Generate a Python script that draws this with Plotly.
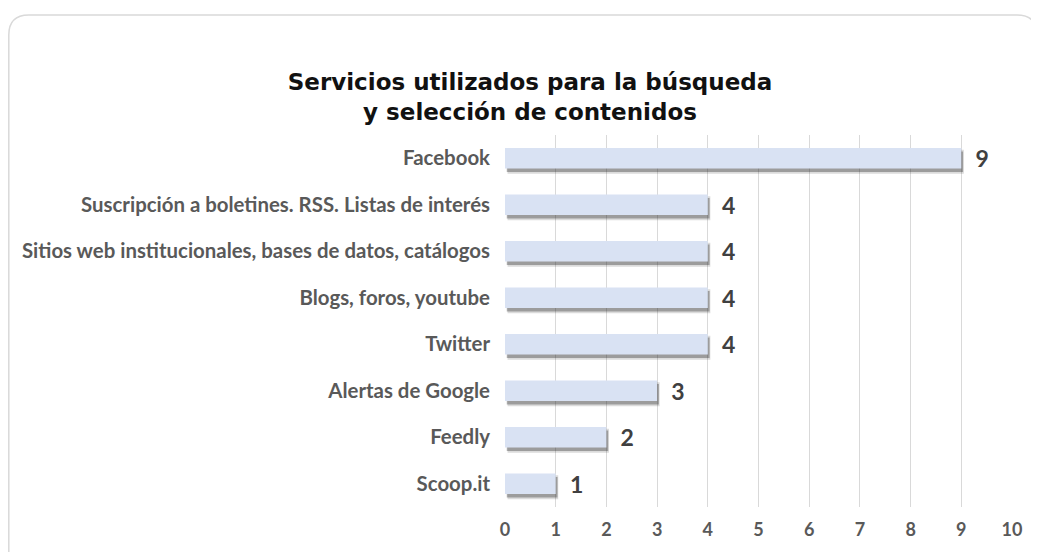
import plotly.graph_objects as go

categories = ["Facebook", "Suscripción a boletines. RSS. Listas de interés",
              "Sitios web institucionales, bases de datos, catálogos",
              "Blogs, foros, youtube", "Twitter", "Alertas de Google", "Feedly", "Scoop.it"]
values = [9, 4, 4, 4, 4, 3, 2, 1]
x_ticks = list(range(0, 11))

# page has an 8px body margin, so the figure is 8px smaller than the window
W, H = 1031, 544
L, R, T, B = 497, 1004, 127, 499

cats = categories[::-1]
vals = values[::-1]
LABEL_FONT = "Lato, Open Sans, sans-serif"

fig = go.Figure()
# soft shadow (drawn first, on the underlying axis)
fig.add_trace(go.Bar(
    y=cats, x=vals, orientation="h", yaxis="y", base=0.05,
    marker=dict(color="rgba(0,0,0,0.14)", line=dict(width=0)),
    width=0.52, hoverinfo="skip", showlegend=False))
fig.add_trace(go.Bar(
    y=cats, x=vals, orientation="h", yaxis="y", base=0.035,
    marker=dict(color="rgba(40,40,40,0.35)", line=dict(width=0)),
    width=0.44, hoverinfo="skip", showlegend=False))
# main bars on the overlaying axis that carries the category labels
fig.add_trace(go.Bar(
    y=cats, x=vals, orientation="h", yaxis="y2",
    marker=dict(color="#D9E2F3", line=dict(width=0)),
    width=0.44, text=["  " + str(v) for v in vals], textposition="outside",
    constraintext="none",
    textfont=dict(family=LABEL_FONT, size=23, color="#404040", weight="bold"),
    cliponaxis=False, showlegend=False))

def px2x(px):
    return (px - L) / (R - L)

def py2y(py):
    return (B - py) / (B - T)

x0, y0, x1, y1, r = 0.8, 7, 1029, 560, 20
path = (f"M {px2x(x0)},{py2y(y1)} L {px2x(x0)},{py2y(y0 + r)} "
        f"Q {px2x(x0)},{py2y(y0)} {px2x(x0 + r)},{py2y(y0)} "
        f"L {px2x(x1 - r)},{py2y(y0)} Q {px2x(x1)},{py2y(y0)} {px2x(x1)},{py2y(y0 + r)} "
        f"L {px2x(x1)},{py2y(y1)}")

fig.update_layout(
    width=W, height=H,
    margin=dict(l=L, r=W - R, t=T, b=H - B),
    paper_bgcolor="white", plot_bgcolor="white",
    barmode="overlay",
    title=dict(text="Servicios utilizados para la búsqueda<br>y selección de contenidos",
               x=522 / W, xanchor="center", y=1 - 82 / H, yanchor="middle",
               font=dict(family="DejaVu Sans, sans-serif", size=23, color="#111111", weight="bold")),
    xaxis=dict(range=[0, 10], tickvals=x_ticks, showgrid=True, gridcolor="#D9D9D9", gridwidth=1,
               zeroline=False, showline=False,
               tickfont=dict(family=LABEL_FONT, size=18, color="#595959", weight="bold"),
               ticklabelstandoff=10),
    yaxis=dict(range=[-0.5 + 0.075, 7.5 + 0.075], showgrid=False, zeroline=False, showline=False,
               showticklabels=False, ticks=""),
    yaxis2=dict(range=[-0.5, 7.5], overlaying="y", side="left", showgrid=False, zeroline=False,
                showline=False,
                tickfont=dict(family=LABEL_FONT, size=20.4, color="#595959", weight="bold"),
                ticklabelstandoff=14),
    shapes=[dict(type="path", path=path, xref="paper", yref="paper",
                 line=dict(color="#D9D9D9", width=1.5), layer="below")],
)

fig.write_html("out.html")
